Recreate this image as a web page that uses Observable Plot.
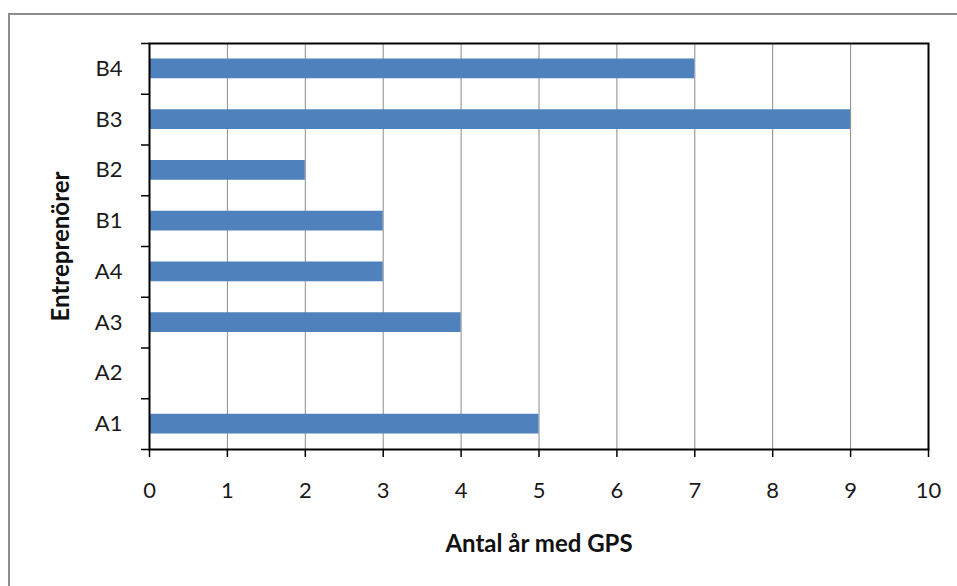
<!DOCTYPE html>
<html>
<head>
<meta charset="utf-8">
<script src="https://cdn.jsdelivr.net/npm/d3@7"></script>
<script src="https://cdn.jsdelivr.net/npm/@observablehq/plot@0.6"></script>
<style>
  html, body { margin: 0; padding: 0; background: #fff; }
  #wrap { position: relative; width: 957px; height: 586px; overflow: hidden; }
  #border { position: absolute; left: 8px; top: 13px; width: 1000px; height: 1000px; border: 2px solid #8c8c8c; box-sizing: border-box; pointer-events: none; }
  #chart { position: absolute; left: 0; top: 0; }
  svg { font-family: Lato, "Open Sans", sans-serif; }
</style>
</head>
<body>
<div id="wrap"><div id="chart"></div><div id="border"></div></div>
<script>
const categories = ["A1", "A2", "A3", "A4", "B1", "B2", "B3", "B4"];
const years = [5, 0, 4, 3, 3, 2, 9, 7];
const xTicks = [0, 1, 2, 3, 4, 5, 6, 7, 8, 9, 10];
const xTitle = "Antal år med GPS";
const yTitle = "Entreprenörer";

const rows = categories.map((c, i) => ({cat: c, i, value: years[i]}));
const boundaries = d3.range(0, categories.length + 1);
const centers = categories.map((c, i) => i + 0.5);

const chart = Plot.plot({
  width: 957,
  height: 586,
  marginLeft: 149,
  marginRight: 29,
  marginTop: 43,
  marginBottom: 137,
  style: {fontFamily: "Lato, 'Open Sans', sans-serif", fontSize: "22px", color: "#222"},
  x: {domain: [0, 10]},
  y: {domain: [0, categories.length]},
  marks: [
    Plot.gridX(xTicks.slice(1, -1), {stroke: "#8a8a8a", strokeOpacity: 1, strokeWidth: 1}),
    Plot.rectX(rows, {x1: 0, x2: "value", y1: "i", y2: d => d.i + 1, insetTop: 15.5, insetBottom: 15.5, fill: "#4f81bd"}),
    Plot.axisX(xTicks, {tickSize: 8, tickPadding: 25, fontSize: 22, stroke: "#000", strokeWidth: 1.5, label: null, fill: "#1a1a1a"}),
    Plot.axisY(boundaries, {tickSize: 8, tickFormat: () => "", stroke: "#000", strokeWidth: 1.5, label: null}),
    Plot.axisY(centers, {tickSize: 0, tickPadding: 27, tickFormat: d => categories[Math.floor(d)], fontSize: 22, label: null, fill: "#1a1a1a"}),
    Plot.frame({stroke: "#000", strokeWidth: 2}),
    Plot.text([yTitle], {frameAnchor: "left", textAnchor: "middle", lineAnchor: "middle", dx: -88, rotate: -90, fontWeight: "bold", fontSize: 24, fill: "#111"}),
    Plot.text([xTitle], {frameAnchor: "bottom", textAnchor: "middle", lineAnchor: "middle", dy: 95, fontWeight: "bold", fontSize: 24, fill: "#111"})
  ]
});
document.getElementById("chart").appendChild(chart);
</script>
</body>
</html>
